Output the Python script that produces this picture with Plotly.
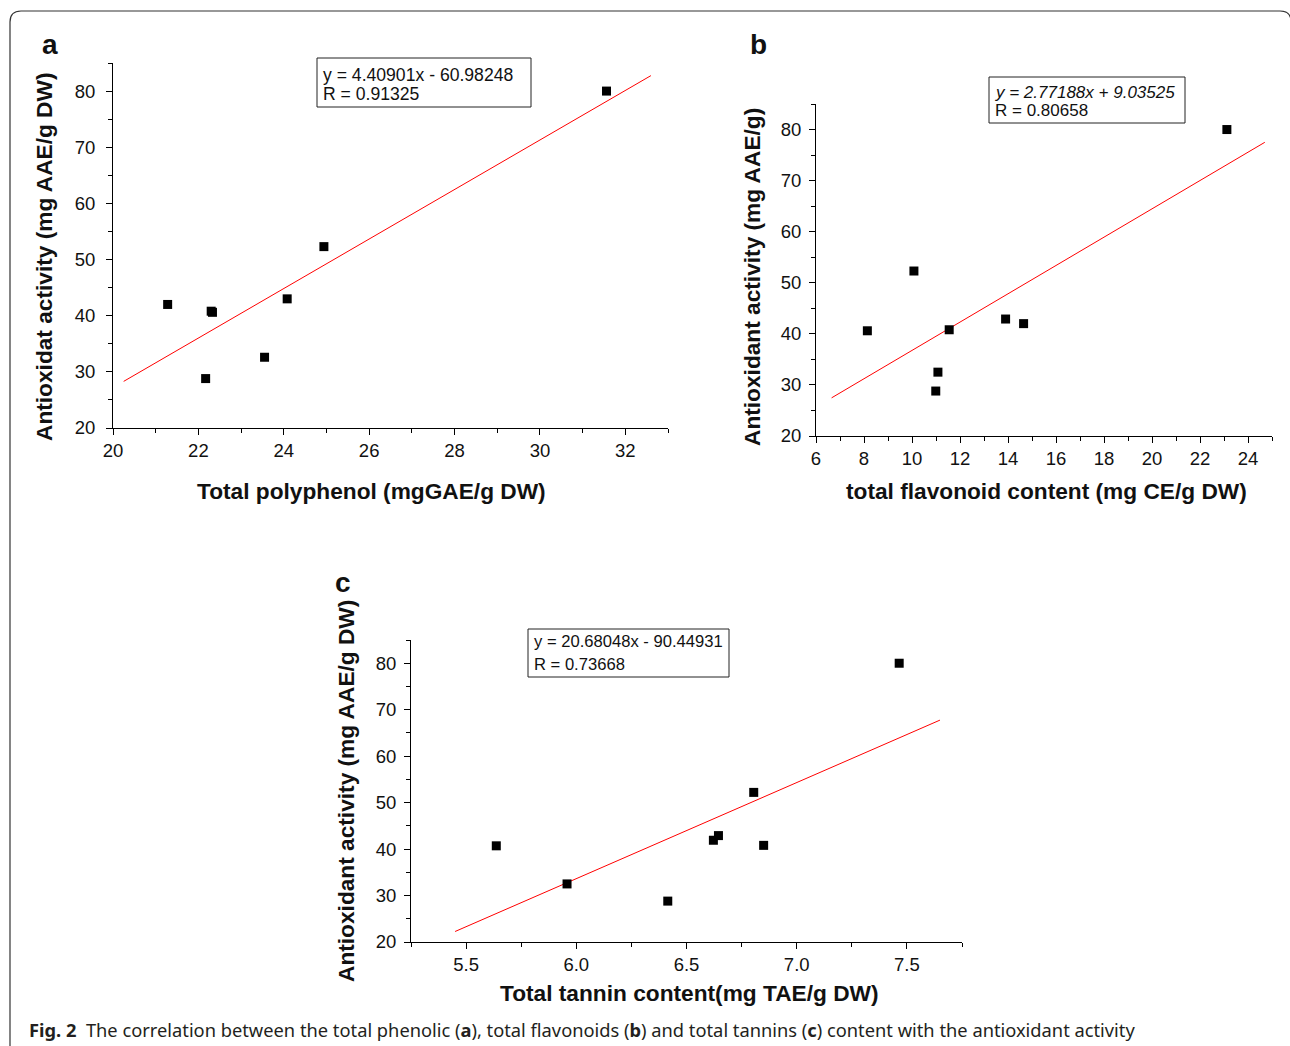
import plotly.graph_objects as go

W, H = 1290, 1046

# ---------------- data ----------------
antiox = [80.0, 52.3, 43.0, 42.0, 40.8, 40.6, 32.6, 28.8]

polyphenol = [31.56, 24.94, 24.08, 21.28, 22.30, 22.33, 23.55, 22.17]
flavonoid = [23.12, 10.08, 13.90, 14.65, 11.55, 8.14, 11.08, 10.99]
antiox_b = [80.0, 52.3, 42.9, 42.0, 40.8, 40.6, 32.5, 28.8]
tannin = [7.465, 6.805, 6.645, 6.622, 6.850, 5.637, 5.958, 6.415]
antiox_c = [80.0, 52.2, 42.9, 41.9, 40.8, 40.7, 32.5, 28.8]

fit_a = dict(slope=4.40901, intercept=-60.98248, xr=[20.25, 32.6])
fit_b = dict(slope=2.77188, intercept=9.03525, xr=[6.65, 24.7])
fit_c = dict(slope=20.68048, intercept=-90.44931, xr=[5.45, 7.65])

eq_a = ["y = 4.40901x - 60.98248", "R = 0.91325"]
eq_b = ["<i>y = 2.77188x + 9.03525</i>", "R = 0.80658"]
eq_c = ["y = 20.68048x - 90.44931", "R = 0.73668"]

xt_a = "Total polyphenol (mgGAE/g DW)"
yt_a = "Antioxidat activity (mg AAE/g DW)"
xt_b = "total flavonoid content (mg CE/g DW)"
yt_b = "Antioxidant activity (mg AAE/g)"
xt_c = "Total tannin content(mg TAE/g DW)"
yt_c = "Antioxidant activity (mg AAE/g DW)"

caption = ("<b>Fig. 2</b>  The correlation between the total phenolic (<b>a</b>), "
           "total flavonoids (<b>b</b>) and total tannins (<b>c</b>) content with the antioxidant activity")

# ---------------- helpers ----------------
def px(x):
    return x / W

def py(y):
    return 1 - y / H

FONT = "Liberation Sans, Arial, sans-serif"

fig = go.Figure()

panels = [
    dict(xs=polyphenol, ys=antiox, fit=fit_a, ax="x", ay="y",
         dom=(113, 668, 63, 428), xr=[20, 33], xd=2, xm=1, xtick0=20, ystand=7),
    dict(xs=flavonoid, ys=antiox_b, fit=fit_b, ax="x2", ay="y2",
         dom=(816, 1272, 104, 436), xr=[6, 25], xd=2, xm=1, xtick0=6, ystand=4),
    dict(xs=tannin, ys=antiox_c, fit=fit_c, ax="x3", ay="y3",
         dom=(411, 962, 640, 942), xr=[5.25, 7.75], xd=0.5, xm=0.25, xtick0=5.5, ystand=4),
]

for i, p in enumerate(panels):
    f = p["fit"]
    fy = [f["slope"] * x + f["intercept"] for x in f["xr"]]
    fig.add_trace(go.Scatter(x=f["xr"], y=fy, mode="lines",
                             line=dict(color="#ff0000", width=1),
                             xaxis=p["ax"], yaxis=p["ay"], showlegend=False,
                             hoverinfo="skip"))
    fig.add_trace(go.Scatter(x=p["xs"], y=p["ys"], mode="markers",
                             marker=dict(symbol="square", size=9, color="black"),
                             xaxis=p["ax"], yaxis=p["ay"], showlegend=False))
    sfx = "" if i == 0 else str(i + 1)
    x0, x1, y0, y1 = p["dom"]
    fig.layout["xaxis" + sfx] = dict(
        domain=[px(x0), px(x1)], range=p["xr"], anchor="y" + sfx,
        showgrid=False, zeroline=False, showline=True, linecolor="black", linewidth=1,
        ticks="outside", ticklen=6, tickwidth=1, tickcolor="black",
        tick0=p["xtick0"], dtick=p["xd"], automargin=False,
        tickformat=".1f" if i == 2 else "d",
        tickfont=dict(family=FONT, size=18.5, color="#111"),
        minor=dict(ticks="outside", ticklen=4, tickwidth=1, tickcolor="black",
                   dtick=p["xm"], tick0=p["xr"][0]),
        fixedrange=True,
    )
    fig.layout["yaxis" + sfx] = dict(
        domain=[py(y1), py(y0)], range=[20, 85], anchor="x" + sfx,
        showgrid=False, zeroline=False, showline=True, linecolor="black", linewidth=1,
        ticks="outside", ticklen=6, tickwidth=1, tickcolor="black",
        tick0=20, dtick=10, automargin=False, ticklabelstandoff=p["ystand"],
        tickfont=dict(family=FONT, size=18.5, color="#111"),
        minor=dict(ticks="outside", ticklen=4, tickwidth=1, tickcolor="black",
                   dtick=5, tick0=20),
        fixedrange=True,
    )

annotations = []
shapes = []

def text(x, y, s, size, bold=False, angle=0, xanchor="center", yanchor="middle", family=FONT, color="#111"):
    annotations.append(dict(
        x=px(x), y=py(y), xref="paper", yref="paper", text=f"<b>{s}</b>" if bold else s,
        showarrow=False, textangle=angle, xanchor=xanchor, yanchor=yanchor,
        font=dict(family=family, size=size, color=color)))

# axis titles
TS = 22.7
text(371, 491, xt_a, TS, bold=True)
text(44, 257, yt_a, TS, bold=True, angle=-90)
text(1046, 491, xt_b, TS, bold=True)
text(752, 277, yt_b, TS, bold=True, angle=-90)
text(690, 993, xt_c, TS, bold=True)
text(346, 791, yt_c, TS, bold=True, angle=-90)

# panel letters
text(50, 45, "a", 28, bold=True)
text(758, 45, "b", 28, bold=True)
text(343, 582, "c", 28, bold=True)

# equation boxes
for (bx0, bx1, by0, by1, tx, l1, l2, lines, fs) in [
    (317, 531, 58, 107, 321, 75, 94, eq_a, 17.6),
    (989, 1185, 77, 123, 993, 92, 111, eq_b, 17),
    (528, 729, 629, 677, 532, 641, 664, eq_c, 16.6),
]:
    shapes.append(dict(type="rect", xref="paper", yref="paper",
                       x0=px(bx0), x1=px(bx1), y0=py(by1), y1=py(by0),
                       line=dict(color="#222", width=1), fillcolor="white"))
    text(tx, l1, lines[0], fs, xanchor="left")
    text(tx, l2, lines[1], fs, xanchor="left")

# caption
text(27, 1029, caption, 18.3, xanchor="left", family="Noto Sans, Open Sans, sans-serif", color="#231f20")

# outer rounded border
def P(x, y):
    return f"{px(x):.5f},{py(y):.5f}"
path = (f"M {P(10, 1046)} L {P(10, 22)} Q {P(10, 11)} {P(21, 11)} "
        f"L {P(1280, 11)} Q {P(1290, 11)} {P(1291, 20)}")
shapes.append(dict(type="path", xref="paper", yref="paper", path=path,
                   line=dict(color="#333", width=1.2)))

fig.update_layout(
    width=W, height=H, margin=dict(l=0, r=0, t=0, b=0, autoexpand=False),
    paper_bgcolor="white", plot_bgcolor="white",
    annotations=annotations, shapes=shapes, showlegend=False,
    font=dict(family=FONT),
)

fig.write_html("out.html", config={"displayModeBar": False},
               post_script="document.body.style.margin='0';document.body.style.overflow='hidden';")
